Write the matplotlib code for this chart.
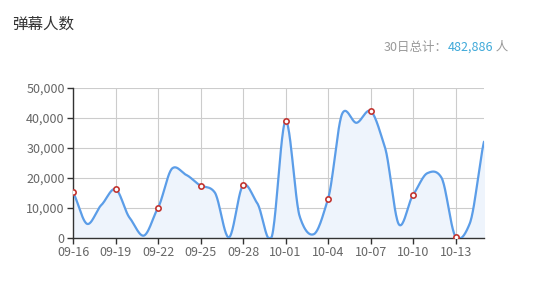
import numpy as np
import matplotlib
matplotlib.use("Agg")
import matplotlib.pyplot as plt

plt.rcParams['font.family'] = ['Noto Sans CJK SC', 'DejaVu Sans']

dates = ["09-16", "09-17", "09-18", "09-19", "09-20", "09-21", "09-22", "09-23", "09-24", "09-25",
         "09-26", "09-27", "09-28", "09-29", "09-30", "10-01", "10-02", "10-03", "10-04", "10-05",
         "10-06", "10-07", "10-08", "10-09", "10-10", "10-11", "10-12", "10-13", "10-14", "10-15"]
values = [15200, 4700, 11000, 16300, 6700, 800, 10100, 23200, 21000, 17500,
          15200, 200, 17600, 11600, 100, 39000, 7100, 1300, 13100, 41500,
          38400, 42300, 30400, 4500, 14400, 21600, 20100, 400, 4900, 32100]
yticks = [0, 10000, 20000, 30000, 40000, 50000]
title = "弹幕人数"
total_label = "30日总计："
total_value = "482,886"
total_unit = " 人"

x = np.arange(len(values))
y = np.array(values, dtype=float)

# Hermite smoothing for drawing the curve
def smooth(x, y, n=24, k=0.75):
    xs, ys = [], []
    m = np.zeros_like(y)
    m[1:-1] = (y[2:] - y[:-2]) / 2.0
    m[0] = y[1] - y[0]
    m[-1] = y[-1] - y[-2]
    m *= k
    for i in range(len(x) - 1):
        t = np.linspace(0, 1, n, endpoint=False)
        h00 = 2*t**3 - 3*t**2 + 1
        h10 = t**3 - 2*t**2 + t
        h01 = -2*t**3 + 3*t**2
        h11 = t**3 - t**2
        xs.append(x[i] + t)
        ys.append(h00*y[i] + h10*m[i] + h01*y[i+1] + h11*m[i+1])
    xs.append([x[-1]]); ys.append([y[-1]])
    return np.concatenate(xs), np.concatenate(ys)

sx, sy = smooth(x, y)
sy = np.clip(sy, 0, None)

fig = plt.figure(figsize=(5.39, 2.84), dpi=100)
ax = fig.add_axes([73/539, 1-238/284, (484-73)/539, (238-88)/284])

ax.fill_between(sx, sy, 0, color='#eef4fc', zorder=1)
ax.plot(sx, sy, color='#5b9de8', lw=1.6, zorder=3, solid_capstyle='round')
mk = x[::3]
ax.plot(mk, y[::3], 'o', ms=3.8, mfc='white', mec='#c23531', mew=1.2, zorder=4, ls='none')

ax.set_xlim(0, len(values) - 1)
ax.set_ylim(0, 50000)
ax.set_yticks(yticks)
ax.set_yticklabels([f"{v:,}" for v in yticks])
ax.set_xticks(mk)
ax.set_xticklabels([dates[i] for i in mk])
ax.grid(True, color='#cccccc', lw=0.8, zorder=0)
ax.set_axisbelow(True)
for s in ['top', 'right']:
    ax.spines[s].set_visible(False)
for s in ['left', 'bottom']:
    ax.spines[s].set_color('#333333')
    ax.spines[s].set_linewidth(1)
ax.tick_params(axis='both', colors='#333333', length=4, width=1, labelsize=9, labelcolor='#666666', pad=2)

fig.text(12/539, 1-24/284, title, fontsize=11.2, color='#333333', va='center', ha='left')
t1 = fig.text(508/539, 1-47/284, total_unit, fontsize=9, color='#999999', va='center', ha='right')
fig.canvas.draw()
r = fig.canvas.get_renderer()
bb = t1.get_window_extent(r)
t2 = fig.text(bb.x0/539, 1-47/284, total_value, fontsize=9, color='#3fa9d9', va='center', ha='right')
bb2 = t2.get_window_extent(r)
fig.text(bb2.x0/539, 1-47/284, total_label, fontsize=9, color='#999999', va='center', ha='right')

fig.savefig("out.png", dpi=100, facecolor='white')
